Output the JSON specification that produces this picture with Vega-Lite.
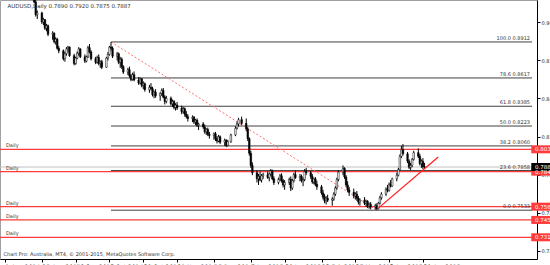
{
"$schema": "https://vega.github.io/schema/vega-lite/v6.json",
"width": 537, "height": 259,
"autosize": {"type": "none"},
"padding": {"left": 0, "top": 0, "right": 13, "bottom": 6},
"background": "white",
"config": {"view": {"stroke": "#a0a0a0"}, "font": "DejaVu Sans", "axis": {"labelOverlap": false}},
"title": {"text": "AUDUSD,Daily  0.7890 0.7920 0.7875 0.7887", "anchor": "start", "offset": -9, "fontSize": 5.5, "fontWeight": "normal", "color": "#333333", "dx": 8, "font": "DejaVu Sans"},
"datasets": {
"bars": [
{"d":"2014-08-18","o":0.9340,"h":0.9355,"l":0.9310,"c":0.9325},
{"d":"2014-08-19","o":0.9325,"h":0.9340,"l":0.9290,"c":0.9310},
{"d":"2014-08-20","o":0.9310,"h":0.9320,"l":0.9230,"c":0.9240},
{"d":"2014-08-21","o":0.9240,"h":0.9255,"l":0.9120,"c":0.9135},
{"d":"2014-08-22","o":0.9135,"h":0.9170,"l":0.9100,"c":0.9150},
{"d":"2014-08-25","o":0.9150,"h":0.9160,"l":0.9060,"c":0.9075},
{"d":"2014-08-26","o":0.9075,"h":0.9110,"l":0.9050,"c":0.9095},
{"d":"2014-08-27","o":0.9095,"h":0.9100,"l":0.9010,"c":0.9025},
{"d":"2014-08-28","o":0.9025,"h":0.9060,"l":0.9000,"c":0.9045},
{"d":"2014-08-29","o":0.9045,"h":0.9055,"l":0.8960,"c":0.8975},
{"d":"2014-09-01","o":0.8975,"h":0.9000,"l":0.8930,"c":0.8985},
{"d":"2014-09-02","o":0.8985,"h":0.8990,"l":0.8900,"c":0.8915},
{"d":"2014-09-03","o":0.8915,"h":0.8950,"l":0.8890,"c":0.8935},
{"d":"2014-09-04","o":0.8935,"h":0.8945,"l":0.8850,"c":0.8860},
{"d":"2014-09-05","o":0.8860,"h":0.8880,"l":0.8820,"c":0.8840},
{"d":"2014-09-08","o":0.8840,"h":0.8850,"l":0.8760,"c":0.8775},
{"d":"2014-09-09","o":0.8775,"h":0.8830,"l":0.8750,"c":0.8815},
{"d":"2014-09-10","o":0.8815,"h":0.8870,"l":0.8800,"c":0.8855},
{"d":"2014-09-11","o":0.8855,"h":0.8880,"l":0.8825,"c":0.8870},
{"d":"2014-09-12","o":0.8870,"h":0.8875,"l":0.8790,"c":0.8800},
{"d":"2014-09-15","o":0.8800,"h":0.8815,"l":0.8720,"c":0.8735},
{"d":"2014-09-16","o":0.8735,"h":0.8790,"l":0.8725,"c":0.8780},
{"d":"2014-09-17","o":0.8780,"h":0.8835,"l":0.8770,"c":0.8820},
{"d":"2014-09-18","o":0.8820,"h":0.8870,"l":0.8800,"c":0.8855},
{"d":"2014-09-19","o":0.8855,"h":0.8860,"l":0.8780,"c":0.8790},
{"d":"2014-09-22","o":0.8790,"h":0.8810,"l":0.8740,"c":0.8755},
{"d":"2014-09-23","o":0.8755,"h":0.8800,"l":0.8745,"c":0.8790},
{"d":"2014-09-24","o":0.8790,"h":0.8880,"l":0.8780,"c":0.8865},
{"d":"2014-09-25","o":0.8865,"h":0.8895,"l":0.8820,"c":0.8830},
{"d":"2014-09-26","o":0.8830,"h":0.8845,"l":0.8760,"c":0.8775},
{"d":"2014-09-29","o":0.8775,"h":0.8790,"l":0.8730,"c":0.8745},
{"d":"2014-09-30","o":0.8745,"h":0.8800,"l":0.8735,"c":0.8785},
{"d":"2014-10-01","o":0.8785,"h":0.8810,"l":0.8720,"c":0.8735},
{"d":"2014-10-02","o":0.8735,"h":0.8760,"l":0.8700,"c":0.8750},
{"d":"2014-10-03","o":0.8750,"h":0.8765,"l":0.8690,"c":0.8705},
{"d":"2014-10-06","o":0.8705,"h":0.8790,"l":0.8700,"c":0.8780},
{"d":"2014-10-07","o":0.8780,"h":0.8830,"l":0.8760,"c":0.8810},
{"d":"2014-10-08","o":0.8810,"h":0.8880,"l":0.8800,"c":0.8870},
{"d":"2014-10-09","o":0.8870,"h":0.8912,"l":0.8840,"c":0.8860},
{"d":"2014-10-10","o":0.8860,"h":0.8875,"l":0.8780,"c":0.8795},
{"d":"2014-10-13","o":0.8795,"h":0.8830,"l":0.8760,"c":0.8815},
{"d":"2014-10-14","o":0.8815,"h":0.8825,"l":0.8730,"c":0.8745},
{"d":"2014-10-15","o":0.8745,"h":0.8790,"l":0.8700,"c":0.8770},
{"d":"2014-10-16","o":0.8770,"h":0.8785,"l":0.8690,"c":0.8710},
{"d":"2014-10-17","o":0.8710,"h":0.8720,"l":0.8650,"c":0.8665},
{"d":"2014-10-20","o":0.8665,"h":0.8700,"l":0.8640,"c":0.8685},
{"d":"2014-10-21","o":0.8685,"h":0.8710,"l":0.8620,"c":0.8635},
{"d":"2014-10-22","o":0.8635,"h":0.8650,"l":0.8590,"c":0.8605},
{"d":"2014-10-23","o":0.8605,"h":0.8660,"l":0.8595,"c":0.8645},
{"d":"2014-10-24","o":0.8645,"h":0.8670,"l":0.8590,"c":0.8600},
{"d":"2014-10-27","o":0.8600,"h":0.8625,"l":0.8560,"c":0.8575},
{"d":"2014-10-28","o":0.8575,"h":0.8620,"l":0.8565,"c":0.8610},
{"d":"2014-10-29","o":0.8610,"h":0.8615,"l":0.8540,"c":0.8555},
{"d":"2014-10-30","o":0.8555,"h":0.8590,"l":0.8525,"c":0.8570},
{"d":"2014-10-31","o":0.8570,"h":0.8580,"l":0.8505,"c":0.8520},
{"d":"2014-11-03","o":0.8520,"h":0.8560,"l":0.8495,"c":0.8540},
{"d":"2014-11-04","o":0.8540,"h":0.8575,"l":0.8515,"c":0.8530},
{"d":"2014-11-05","o":0.8530,"h":0.8545,"l":0.8465,"c":0.8480},
{"d":"2014-11-06","o":0.8480,"h":0.8515,"l":0.8450,"c":0.8500},
{"d":"2014-11-07","o":0.8500,"h":0.8525,"l":0.8455,"c":0.8470},
{"d":"2014-11-10","o":0.8470,"h":0.8500,"l":0.8430,"c":0.8490},
{"d":"2014-11-11","o":0.8490,"h":0.8530,"l":0.8470,"c":0.8515},
{"d":"2014-11-12","o":0.8515,"h":0.8535,"l":0.8450,"c":0.8460},
{"d":"2014-11-13","o":0.8460,"h":0.8475,"l":0.8400,"c":0.8425},
{"d":"2014-11-14","o":0.8425,"h":0.8470,"l":0.8410,"c":0.8450},
{"d":"2014-11-17","o":0.8450,"h":0.8465,"l":0.8390,"c":0.8405},
{"d":"2014-11-18","o":0.8405,"h":0.8440,"l":0.8380,"c":0.8425},
{"d":"2014-11-19","o":0.8425,"h":0.8435,"l":0.8360,"c":0.8375},
{"d":"2014-11-20","o":0.8375,"h":0.8410,"l":0.8350,"c":0.8395},
{"d":"2014-11-21","o":0.8395,"h":0.8420,"l":0.8355,"c":0.8370},
{"d":"2014-11-24","o":0.8370,"h":0.8390,"l":0.8320,"c":0.8340},
{"d":"2014-11-25","o":0.8340,"h":0.8380,"l":0.8325,"c":0.8365},
{"d":"2014-11-26","o":0.8365,"h":0.8375,"l":0.8300,"c":0.8320},
{"d":"2014-11-27","o":0.8320,"h":0.8345,"l":0.8285,"c":0.8300},
{"d":"2014-11-28","o":0.8300,"h":0.8320,"l":0.8260,"c":0.8285},
{"d":"2014-12-01","o":0.8285,"h":0.8310,"l":0.8255,"c":0.8295},
{"d":"2014-12-02","o":0.8295,"h":0.8305,"l":0.8240,"c":0.8255},
{"d":"2014-12-03","o":0.8255,"h":0.8280,"l":0.8230,"c":0.8270},
{"d":"2014-12-04","o":0.8270,"h":0.8285,"l":0.8215,"c":0.8230},
{"d":"2014-12-05","o":0.8230,"h":0.8250,"l":0.8190,"c":0.8240},
{"d":"2014-12-08","o":0.8240,"h":0.8255,"l":0.8200,"c":0.8215},
{"d":"2014-12-09","o":0.8215,"h":0.8235,"l":0.8160,"c":0.8175},
{"d":"2014-12-10","o":0.8175,"h":0.8205,"l":0.8150,"c":0.8195},
{"d":"2014-12-11","o":0.8195,"h":0.8210,"l":0.8140,"c":0.8155},
{"d":"2014-12-12","o":0.8155,"h":0.8175,"l":0.8120,"c":0.8145},
{"d":"2014-12-15","o":0.8145,"h":0.8170,"l":0.8110,"c":0.8160},
{"d":"2014-12-16","o":0.8160,"h":0.8175,"l":0.8100,"c":0.8120},
{"d":"2014-12-17","o":0.8120,"h":0.8140,"l":0.8080,"c":0.8100},
{"d":"2014-12-18","o":0.8100,"h":0.8150,"l":0.8090,"c":0.8135},
{"d":"2014-12-19","o":0.8135,"h":0.8145,"l":0.8075,"c":0.8090},
{"d":"2014-12-22","o":0.8090,"h":0.8120,"l":0.8060,"c":0.8105},
{"d":"2014-12-23","o":0.8105,"h":0.8115,"l":0.8050,"c":0.8065},
{"d":"2014-12-24","o":0.8065,"h":0.8110,"l":0.8055,"c":0.8095},
{"d":"2014-12-26","o":0.8095,"h":0.8160,"l":0.8085,"c":0.8150},
{"d":"2014-12-29","o":0.8150,"h":0.8220,"l":0.8140,"c":0.8205},
{"d":"2014-12-30","o":0.8205,"h":0.8260,"l":0.8195,"c":0.8240},
{"d":"2014-12-31","o":0.8240,"h":0.8290,"l":0.8220,"c":0.8275},
{"d":"2015-01-02","o":0.8275,"h":0.8300,"l":0.8230,"c":0.8245},
{"d":"2015-01-05","o":0.8245,"h":0.8285,"l":0.8180,"c":0.8200},
{"d":"2015-01-06","o":0.8200,"h":0.8215,"l":0.8100,"c":0.8120},
{"d":"2015-01-07","o":0.8120,"h":0.8130,"l":0.7980,"c":0.8000},
{"d":"2015-01-08","o":0.8000,"h":0.8020,"l":0.7880,"c":0.7900},
{"d":"2015-01-09","o":0.7900,"h":0.7925,"l":0.7820,"c":0.7840},
{"d":"2015-01-12","o":0.7840,"h":0.7860,"l":0.7760,"c":0.7790},
{"d":"2015-01-13","o":0.7790,"h":0.7830,"l":0.7740,"c":0.7810},
{"d":"2015-01-14","o":0.7810,"h":0.7850,"l":0.7770,"c":0.7780},
{"d":"2015-01-15","o":0.7780,"h":0.7830,"l":0.7760,"c":0.7815},
{"d":"2015-01-16","o":0.7815,"h":0.7840,"l":0.7790,"c":0.7825},
{"d":"2015-01-19","o":0.7825,"h":0.7850,"l":0.7790,"c":0.7800},
{"d":"2015-01-20","o":0.7800,"h":0.7840,"l":0.7770,"c":0.7830},
{"d":"2015-01-21","o":0.7830,"h":0.7870,"l":0.7810,"c":0.7855},
{"d":"2015-01-22","o":0.7855,"h":0.7865,"l":0.7780,"c":0.7790},
{"d":"2015-01-23","o":0.7790,"h":0.7810,"l":0.7740,"c":0.7760},
{"d":"2015-01-26","o":0.7760,"h":0.7800,"l":0.7745,"c":0.7785},
{"d":"2015-01-27","o":0.7785,"h":0.7830,"l":0.7770,"c":0.7815},
{"d":"2015-01-28","o":0.7815,"h":0.7835,"l":0.7760,"c":0.7775},
{"d":"2015-01-29","o":0.7775,"h":0.7790,"l":0.7720,"c":0.7740},
{"d":"2015-01-30","o":0.7740,"h":0.7780,"l":0.7700,"c":0.7760},
{"d":"2015-02-02","o":0.7760,"h":0.7800,"l":0.7740,"c":0.7785},
{"d":"2015-02-03","o":0.7785,"h":0.7810,"l":0.7690,"c":0.7715},
{"d":"2015-02-04","o":0.7715,"h":0.7790,"l":0.7700,"c":0.7775},
{"d":"2015-02-05","o":0.7775,"h":0.7840,"l":0.7760,"c":0.7825},
{"d":"2015-02-06","o":0.7825,"h":0.7860,"l":0.7790,"c":0.7800},
{"d":"2015-02-09","o":0.7800,"h":0.7830,"l":0.7770,"c":0.7810},
{"d":"2015-02-10","o":0.7810,"h":0.7825,"l":0.7760,"c":0.7775},
{"d":"2015-02-11","o":0.7775,"h":0.7800,"l":0.7730,"c":0.7785},
{"d":"2015-02-12","o":0.7785,"h":0.7870,"l":0.7770,"c":0.7850},
{"d":"2015-02-13","o":0.7850,"h":0.7880,"l":0.7820,"c":0.7840},
{"d":"2015-02-16","o":0.7840,"h":0.7855,"l":0.7790,"c":0.7810},
{"d":"2015-02-17","o":0.7810,"h":0.7830,"l":0.7750,"c":0.7765},
{"d":"2015-02-18","o":0.7765,"h":0.7800,"l":0.7745,"c":0.7790},
{"d":"2015-02-19","o":0.7790,"h":0.7805,"l":0.7730,"c":0.7745},
{"d":"2015-02-20","o":0.7745,"h":0.7775,"l":0.7700,"c":0.7725},
{"d":"2015-02-23","o":0.7725,"h":0.7740,"l":0.7660,"c":0.7675},
{"d":"2015-02-24","o":0.7675,"h":0.7700,"l":0.7620,"c":0.7640},
{"d":"2015-02-25","o":0.7640,"h":0.7665,"l":0.7590,"c":0.7610},
{"d":"2015-02-26","o":0.7610,"h":0.7650,"l":0.7580,"c":0.7630},
{"d":"2015-02-27","o":0.7630,"h":0.7660,"l":0.7600,"c":0.7615},
{"d":"2015-03-02","o":0.7615,"h":0.7640,"l":0.7570,"c":0.7625},
{"d":"2015-03-03","o":0.7625,"h":0.7680,"l":0.7610,"c":0.7665},
{"d":"2015-03-04","o":0.7665,"h":0.7730,"l":0.7650,"c":0.7715},
{"d":"2015-03-05","o":0.7715,"h":0.7800,"l":0.7700,"c":0.7785},
{"d":"2015-03-06","o":0.7785,"h":0.7860,"l":0.7770,"c":0.7845},
{"d":"2015-03-09","o":0.7845,"h":0.7900,"l":0.7820,"c":0.7875},
{"d":"2015-03-10","o":0.7875,"h":0.7885,"l":0.7790,"c":0.7805},
{"d":"2015-03-11","o":0.7805,"h":0.7820,"l":0.7720,"c":0.7740},
{"d":"2015-03-12","o":0.7740,"h":0.7770,"l":0.7680,"c":0.7700},
{"d":"2015-03-13","o":0.7700,"h":0.7725,"l":0.7650,"c":0.7680},
{"d":"2015-03-16","o":0.7680,"h":0.7710,"l":0.7630,"c":0.7650},
{"d":"2015-03-17","o":0.7650,"h":0.7680,"l":0.7620,"c":0.7665},
{"d":"2015-03-18","o":0.7665,"h":0.7690,"l":0.7610,"c":0.7630},
{"d":"2015-03-19","o":0.7630,"h":0.7650,"l":0.7580,"c":0.7600},
{"d":"2015-03-20","o":0.7600,"h":0.7630,"l":0.7570,"c":0.7615},
{"d":"2015-03-23","o":0.7615,"h":0.7640,"l":0.7575,"c":0.7590},
{"d":"2015-03-24","o":0.7590,"h":0.7620,"l":0.7560,"c":0.7605},
{"d":"2015-03-25","o":0.7605,"h":0.7615,"l":0.7550,"c":0.7565},
{"d":"2015-03-26","o":0.7565,"h":0.7595,"l":0.7545,"c":0.7580},
{"d":"2015-03-27","o":0.7580,"h":0.7600,"l":0.7540,"c":0.7560},
{"d":"2015-03-30","o":0.7560,"h":0.7585,"l":0.7538,"c":0.7570},
{"d":"2015-03-31","o":0.7570,"h":0.7590,"l":0.7533,"c":0.7545},
{"d":"2015-04-01","o":0.7545,"h":0.7600,"l":0.7540,"c":0.7590},
{"d":"2015-04-02","o":0.7590,"h":0.7650,"l":0.7580,"c":0.7635},
{"d":"2015-04-03","o":0.7635,"h":0.7680,"l":0.7620,"c":0.7665},
{"d":"2015-04-06","o":0.7665,"h":0.7720,"l":0.7650,"c":0.7705},
{"d":"2015-04-07","o":0.7705,"h":0.7740,"l":0.7680,"c":0.7695},
{"d":"2015-04-08","o":0.7695,"h":0.7760,"l":0.7685,"c":0.7745},
{"d":"2015-04-09","o":0.7745,"h":0.7780,"l":0.7720,"c":0.7730},
{"d":"2015-04-10","o":0.7730,"h":0.7800,"l":0.7725,"c":0.7790},
{"d":"2015-04-13","o":0.7790,"h":0.7840,"l":0.7770,"c":0.7820},
{"d":"2015-04-14","o":0.7820,"h":0.7880,"l":0.7810,"c":0.7865},
{"d":"2015-04-15","o":0.7865,"h":0.7990,"l":0.7860,"c":0.7975},
{"d":"2015-04-16","o":0.7975,"h":0.8060,"l":0.7960,"c":0.8030},
{"d":"2015-04-17","o":0.8030,"h":0.8075,"l":0.7980,"c":0.7995},
{"d":"2015-04-20","o":0.7995,"h":0.8010,"l":0.7920,"c":0.7935},
{"d":"2015-04-21","o":0.7935,"h":0.7950,"l":0.7870,"c":0.7885},
{"d":"2015-04-22","o":0.7885,"h":0.7920,"l":0.7860,"c":0.7900},
{"d":"2015-04-23","o":0.7900,"h":0.7960,"l":0.7885,"c":0.7950},
{"d":"2015-04-24","o":0.7950,"h":0.8020,"l":0.7940,"c":0.8005},
{"d":"2015-04-27","o":0.8005,"h":0.8040,"l":0.7960,"c":0.7975},
{"d":"2015-04-28","o":0.7975,"h":0.7995,"l":0.7900,"c":0.7915},
{"d":"2015-04-29","o":0.7915,"h":0.7950,"l":0.7880,"c":0.7935},
{"d":"2015-04-30","o":0.7935,"h":0.7960,"l":0.7870,"c":0.7890},
{"d":"2015-05-01","o":0.7890,"h":0.7920,"l":0.7875,"c":0.7887}
],
"fib": [
{"lab":"100.0  0.8912","p":0.8912,"t":"2014-10-09"},
{"lab":"78.6  0.8617","p":0.8617,"t":"2014-10-09"},
{"lab":"61.8  0.8385","p":0.8385,"t":"2014-10-09"},
{"lab":"50.0  0.8223","p":0.8223,"t":"2014-10-09"},
{"lab":"38.2  0.8060","p":0.8060,"t":"2014-10-09"},
{"lab":"23.6  0.7858","p":0.7858,"t":"2014-10-09"},
{"lab":"0.0  0.7533","p":0.7533,"t":"2014-10-09"}
],
"levels": [
{"p":0.8032,"lab":"0.8032"},
{"p":0.7849,"lab":"0.7849"},
{"p":0.7562,"lab":"0.7562"},
{"p":0.7453,"lab":"0.7453"},
{"p":0.7311,"lab":"0.7311"}
],
"bid": [{"p":0.7887,"lab":"0.7887"}],
"diag": [{"t":"2014-10-09","p":0.8912},{"t":"2015-03-31","p":0.7533}],
"trend": [{"t":"2015-04-01","p":0.7550},{"t":"2015-05-10","p":0.7970}]
},
"layer": [
{"data": {"name": "fib"},
 "mark": {"type": "rule", "color": "#404040", "strokeWidth": 1},
 "encoding": {
  "x": {"field": "t", "type": "temporal", "scale": {"type": "utc", "domain": [{"year":2014,"month":8,"date":1,"utc":true},{"year":2015,"month":7,"date":10,"utc":true}]},
   "axis": {"orient": "bottom", "format": "%-d %b %Y", "labelFontSize": 6, "labelAlign": "left", "labelPadding": 1, "tickSize": 3, "tickColor": "black", "domainColor": "black", "labelColor": "black", "grid": false, "labelFlush": false, "labelOverlap": false,
    "values": [{"year":2014,"month":8,"date":1,"utc":true},{"year":2014,"month":8,"date":13,"utc":true},{"year":2014,"month":8,"date":25,"utc":true},{"year":2014,"month":9,"date":4,"utc":true},{"year":2014,"month":9,"date":16,"utc":true},{"year":2014,"month":9,"date":26,"utc":true},{"year":2014,"month":10,"date":8,"utc":true},{"year":2014,"month":10,"date":20,"utc":true},{"year":2014,"month":10,"date":30,"utc":true},{"year":2014,"month":11,"date":11,"utc":true},{"year":2014,"month":11,"date":21,"utc":true},{"year":2014,"month":12,"date":3,"utc":true},{"year":2014,"month":12,"date":15,"utc":true},{"year":2014,"month":12,"date":26,"utc":true},{"year":2015,"month":1,"date":8,"utc":true},{"year":2015,"month":1,"date":20,"utc":true},{"year":2015,"month":1,"date":30,"utc":true},{"year":2015,"month":2,"date":11,"utc":true},{"year":2015,"month":2,"date":23,"utc":true},{"year":2015,"month":3,"date":5,"utc":true},{"year":2015,"month":3,"date":17,"utc":true},{"year":2015,"month":3,"date":27,"utc":true},{"year":2015,"month":4,"date":8,"utc":true},{"year":2015,"month":4,"date":20,"utc":true},{"year":2015,"month":4,"date":30,"utc":true}],
    "title": "Chart Pro: Australia, MT4, © 2001-2015, MetaQuotes Software Corp.", "titleAnchor": "start", "titleAlign": "left", "titleX": 3, "titleY": -3, "titleBaseline": "bottom", "titleFontSize": 5, "titleFontWeight": "normal", "titleColor": "#333333"}},
  "x2": {"datum": {"year":2015,"month":7,"date":10,"utc":true}},
  "y": {"field": "p", "type": "quantitative", "scale": {"domain": [0.7133, 0.9256], "zero": false, "nice": false},
   "axis": {"orient": "right", "format": ".4f", "labelFontSize": 5, "labelColor": "#222222", "tickSize": 3, "tickColor": "black", "domainColor": "black", "labelPadding": 1, "grid": false, "title": null, "labelFlush": false, "labelOverlap": false, "labelBound": false,
    "values": [0.9229,0.9151,0.9073,0.8995,0.8917,0.8839,0.8761,0.8683,0.8605,0.8527,0.8449,0.8371,0.8293,0.8215,0.8137,0.8059,0.7981,0.7903,0.7825,0.7747,0.7669,0.7591,0.7513,0.7435,0.7357,0.7279,0.7201]}}}},
{"data": {"name": "bid"},
 "mark": {"type": "rule", "color": "#c0c0c0", "strokeWidth": 1},
 "encoding": {"y": {"field": "p", "type": "quantitative", "scale": {"domain": [0.7133, 0.9256], "zero": false, "nice": false}}}},
{"data": {"name": "levels"},
 "mark": {"type": "rule", "color": "#ff3b3b", "strokeWidth": 1.2},
 "encoding": {"y": {"field": "p", "type": "quantitative", "scale": {"domain": [0.7133, 0.9256], "zero": false, "nice": false}}}},
{"data": {"name": "diag"},
 "mark": {"type": "line", "color": "#ff7070", "strokeWidth": 1, "strokeDash": [2, 2]},
 "encoding": {
  "x": {"field": "t", "type": "temporal", "scale": {"type": "utc", "domain": [{"year":2014,"month":8,"date":1,"utc":true},{"year":2015,"month":7,"date":10,"utc":true}]}},
  "y": {"field": "p", "type": "quantitative", "scale": {"domain": [0.7133, 0.9256], "zero": false, "nice": false}}}},
{"data": {"name": "bars"},
 "mark": {"type": "rule", "color": "black", "strokeWidth": 1, "clip": true},
 "encoding": {
  "x": {"field": "d", "type": "temporal", "scale": {"type": "utc", "domain": [{"year":2014,"month":8,"date":1,"utc":true},{"year":2015,"month":7,"date":10,"utc":true}]}},
  "y": {"field": "l", "type": "quantitative", "scale": {"domain": [0.7133, 0.9256], "zero": false, "nice": false}},
  "y2": {"field": "h"}}},
{"data": {"name": "bars"},
 "mark": {"type": "bar", "size": 1.6, "stroke": "black", "strokeWidth": 0.5, "clip": true},
 "encoding": {
  "x": {"field": "d", "type": "temporal", "scale": {"type": "utc", "domain": [{"year":2014,"month":8,"date":1,"utc":true},{"year":2015,"month":7,"date":10,"utc":true}]}},
  "y": {"field": "o", "type": "quantitative", "scale": {"domain": [0.7133, 0.9256], "zero": false, "nice": false}},
  "y2": {"field": "c"},
  "fill": {"condition": {"test": "datum.c >= datum.o", "value": "white"}, "value": "black"}}},
{"data": {"name": "trend"},
 "mark": {"type": "line", "color": "#ff2020", "strokeWidth": 1.3},
 "encoding": {
  "x": {"field": "t", "type": "temporal", "scale": {"type": "utc", "domain": [{"year":2014,"month":8,"date":1,"utc":true},{"year":2015,"month":7,"date":10,"utc":true}]}},
  "y": {"field": "p", "type": "quantitative", "scale": {"domain": [0.7133, 0.9256], "zero": false, "nice": false}}}},
{"data": {"name": "fib"},
 "mark": {"type": "text", "fontSize": 5, "color": "#333333", "align": "right", "baseline": "bottom", "dx": -2, "dy": -1},
 "encoding": {
  "x": {"datum": {"year":2015,"month":7,"date":10,"utc":true}, "type": "temporal", "scale": {"type": "utc", "domain": [{"year":2014,"month":8,"date":1,"utc":true},{"year":2015,"month":7,"date":10,"utc":true}]}},
  "y": {"field": "p", "type": "quantitative", "scale": {"domain": [0.7133, 0.9256], "zero": false, "nice": false}},
  "text": {"field": "lab"}}},
{"data": {"name": "levels"},
 "mark": {"type": "text", "fontSize": 5, "color": "#333333", "align": "left", "baseline": "bottom", "dx": 1, "dy": -1, "text": "Daily"},
 "encoding": {
  "x": {"datum": {"year":2014,"month":8,"date":1,"utc":true}, "type": "temporal", "scale": {"type": "utc", "domain": [{"year":2014,"month":8,"date":1,"utc":true},{"year":2015,"month":7,"date":10,"utc":true}]}},
  "y": {"field": "p", "type": "quantitative", "scale": {"domain": [0.7133, 0.9256], "zero": false, "nice": false}}}},
{"data": {"name": "levels"},
 "mark": {"type": "tick", "orient": "horizontal", "size": 26, "thickness": 8, "color": "#ff3b3b", "opacity": 1, "clip": false},
 "encoding": {
  "x": {"datum": {"year":2015,"month":7,"date":18,"utc":true}, "type": "temporal", "scale": {"type": "utc", "domain": [{"year":2014,"month":8,"date":1,"utc":true},{"year":2015,"month":7,"date":10,"utc":true}]}},
  "y": {"field": "p", "type": "quantitative", "scale": {"domain": [0.7133, 0.9256], "zero": false, "nice": false}}}},
{"data": {"name": "bid"},
 "mark": {"type": "tick", "orient": "horizontal", "size": 26, "thickness": 8, "color": "black", "opacity": 1, "clip": false},
 "encoding": {
  "x": {"datum": {"year":2015,"month":7,"date":18,"utc":true}, "type": "temporal", "scale": {"type": "utc", "domain": [{"year":2014,"month":8,"date":1,"utc":true},{"year":2015,"month":7,"date":10,"utc":true}]}},
  "y": {"field": "p", "type": "quantitative", "scale": {"domain": [0.7133, 0.9256], "zero": false, "nice": false}}}},
{"data": {"name": "levels"},
 "mark": {"type": "text", "fontSize": 5.5, "color": "white", "align": "left", "baseline": "middle", "dx": 3},
 "encoding": {
  "x": {"datum": {"year":2015,"month":7,"date":10,"utc":true}, "type": "temporal", "scale": {"type": "utc", "domain": [{"year":2014,"month":8,"date":1,"utc":true},{"year":2015,"month":7,"date":10,"utc":true}]}},
  "y": {"field": "p", "type": "quantitative", "scale": {"domain": [0.7133, 0.9256], "zero": false, "nice": false}},
  "text": {"field": "lab"}}},
{"data": {"name": "bid"},
 "mark": {"type": "text", "fontSize": 5.5, "color": "white", "align": "left", "baseline": "middle", "dx": 3},
 "encoding": {
  "x": {"datum": {"year":2015,"month":7,"date":10,"utc":true}, "type": "temporal", "scale": {"type": "utc", "domain": [{"year":2014,"month":8,"date":1,"utc":true},{"year":2015,"month":7,"date":10,"utc":true}]}},
  "y": {"field": "p", "type": "quantitative", "scale": {"domain": [0.7133, 0.9256], "zero": false, "nice": false}},
  "text": {"field": "lab"}}}
]
}
